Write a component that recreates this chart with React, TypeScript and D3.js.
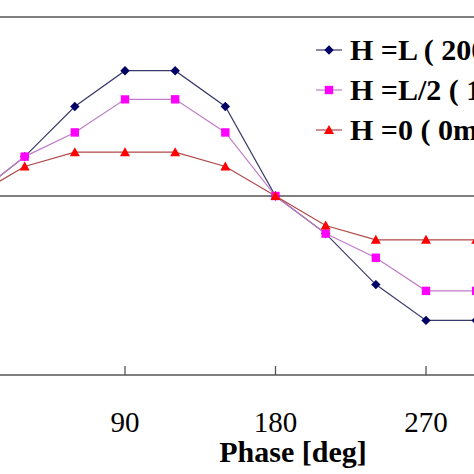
import React from "react";
import * as d3 from "d3";

const phases = [0, 30, 60, 90, 120, 150, 180, 210, 240, 270, 300];
const seriesFull = [0, 0.22, 0.5, 0.7, 0.7, 0.5, 0, -0.21, -0.495, -0.695, -0.695];
const seriesHalf = [0, 0.22, 0.355, 0.54, 0.54, 0.355, 0, -0.21, -0.345, -0.53, -0.53];
const seriesZero = [0, 0.165, 0.245, 0.245, 0.245, 0.165, 0, -0.165, -0.245, -0.245, -0.245];
const legendLabels = ["H =L ( 200mm )", "H =L/2 ( 100mm )", "H =0 ( 0mm )"];
const xTicks = [90, 180, 270];

const W = 474;
const H = 474;

export default function App() {
  const x = d3.scaleLinear().domain([90, 270]).range([125, 426]);
  const y = d3.scaleLinear().domain([-1, 1]).range([375, 17]);
  const line = d3
    .line<number>()
    .x((_, i) => x(phases[i]))
    .y((d) => y(d));

  const series = [
    { values: seriesFull, stroke: "#3a3a6a", fill: "#000066", marker: "diamond" },
    { values: seriesHalf, stroke: "#c07cc8", fill: "#ff00ff", marker: "square" },
    { values: seriesZero, stroke: "#b04848", fill: "#ff0000", marker: "triangle" },
  ];

  const markerPath = (m: string, cx: number, cy: number) => {
    if (m === "diamond") {
      const r = 4.7;
      return `M${cx},${cy - r}L${cx + r},${cy}L${cx},${cy + r}L${cx - r},${cy}Z`;
    }
    if (m === "square") {
      const r = 4.2;
      return `M${cx - r},${cy - r}h${2 * r}v${2 * r}h${-2 * r}Z`;
    }
    const r = 5;
    return `M${cx},${cy - r}L${cx + r},${cy + r * 0.8}L${cx - r},${cy + r * 0.8}Z`;
  };

  const legendX = 316;
  const legendYs = [50, 90, 130];

  return (
    <svg
      width={W}
      height={H}
      style={{ position: "absolute", left: 0, top: 0, background: "#fff" }}
      fontFamily="'Liberation Serif', 'Times New Roman', serif"
    >
      <rect x={0} y={0} width={W} height={H} fill="#fff" />
      <line x1={0} x2={W} y1={y(1)} y2={y(1)} stroke="#555" strokeWidth={1.3} />
      <line x1={0} x2={W} y1={y(-1)} y2={y(-1)} stroke="#555" strokeWidth={1.3} />
      <line x1={0} x2={W} y1={y(0)} y2={y(0)} stroke="#555" strokeWidth={1.3} />
      {xTicks.map((t) => (
        <g key={t}>
          <line x1={x(t)} x2={x(t)} y1={y(-1)} y2={y(-1) - 9} stroke="#555" strokeWidth={1.3} />
          <text x={x(t)} y={432} textAnchor="middle" fontSize={29} fill="#000">
            {t}
          </text>
        </g>
      ))}
      <text x={293} y={462} textAnchor="middle" fontSize={30} fontWeight="bold" fill="#000">
        Phase [deg]
      </text>
      {series.map((s, si) => (
        <g key={si}>
          <path d={line(s.values) || ""} fill="none" stroke={s.stroke} strokeWidth={1.2} />
          {s.values.map((v, i) => (
            <path key={i} d={markerPath(s.marker, x(phases[i]), y(v))} fill={s.fill} />
          ))}
        </g>
      ))}
      {series.map((s, si) => (
        <g key={"l" + si}>
          <line
            x1={legendX}
            x2={legendX + 26}
            y1={legendYs[si]}
            y2={legendYs[si]}
            stroke={s.stroke}
            strokeWidth={1.2}
          />
          <path d={markerPath(s.marker, legendX + 13, legendYs[si])} fill={s.fill} />
          <text x={350} y={legendYs[si] + 10} fontSize={30} fontWeight="bold" fill="#000">
            {legendLabels[si]}
          </text>
        </g>
      ))}
    </svg>
  );
}
